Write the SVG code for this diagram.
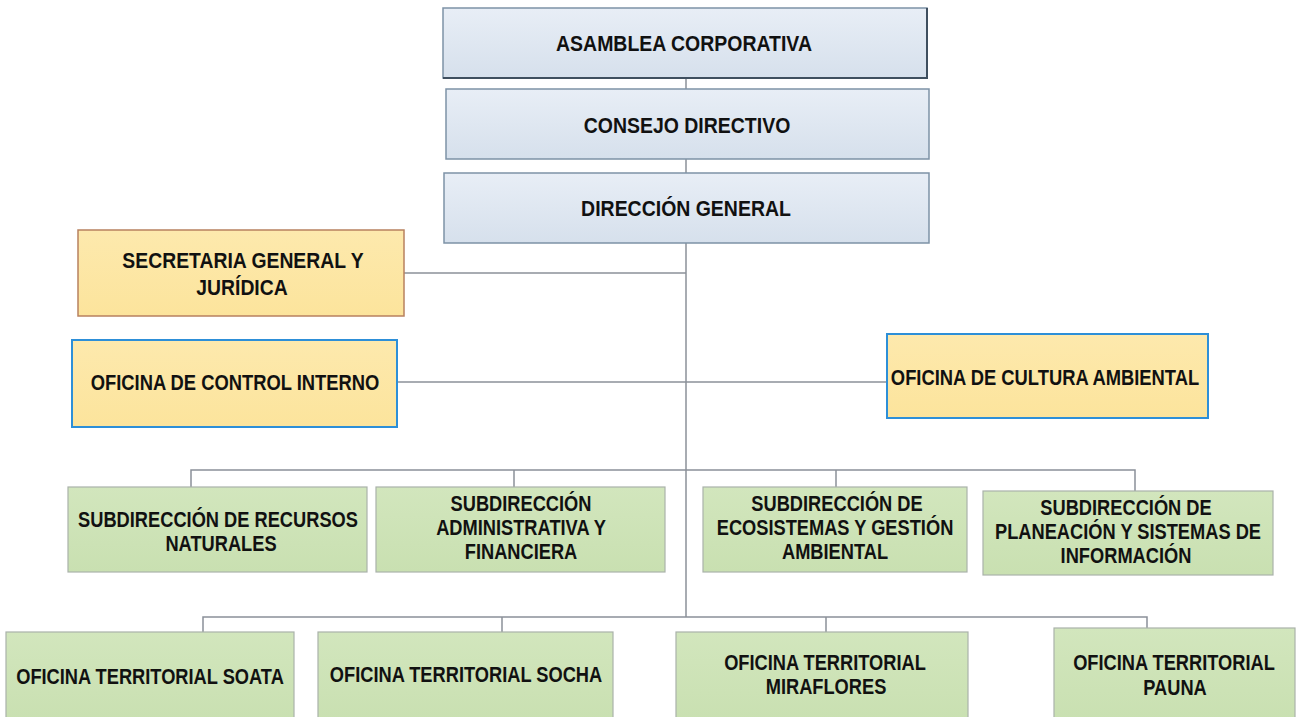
<svg xmlns="http://www.w3.org/2000/svg" width="1303" height="717" viewBox="0 0 1303 717">
<defs>
<linearGradient id="gBlue" x1="0" y1="0" x2="0" y2="1">
<stop offset="0" stop-color="#e8eef6"/>
<stop offset="1" stop-color="#d6e0ec"/>
</linearGradient>
<linearGradient id="gYel" x1="0" y1="0" x2="0" y2="1">
<stop offset="0" stop-color="#fde9ad"/>
<stop offset="1" stop-color="#fce49c"/>
</linearGradient>
<linearGradient id="gGrn" x1="0" y1="0" x2="0" y2="1">
<stop offset="0" stop-color="#d2e6bd"/>
<stop offset="1" stop-color="#c9e0b1"/>
</linearGradient>
</defs>
<style>
.blue{fill:url(#gBlue);stroke:#7d92a6;stroke-width:1.5}
.yel{fill:url(#gYel);stroke:#b8815f;stroke-width:1.5}
.yelb{fill:url(#gYel);stroke:#2d8fd8;stroke-width:2}
.grn{fill:url(#gGrn);stroke:#aab2aa;stroke-width:1.2}
text{font-family:"Liberation Sans",Arial,sans-serif;font-weight:bold;fill:#111;font-size:22px;text-anchor:middle}
.con{stroke:#8b9099;stroke-width:1.5;fill:none}
</style>
<g id="connectors">
<line class="con" x1="686" y1="78" x2="686" y2="89"/>
<line class="con" x1="686" y1="159" x2="686" y2="173"/>
<line class="con" x1="686" y1="243" x2="686" y2="617"/>
<line class="con" x1="404" y1="273" x2="686" y2="273"/>
<line class="con" x1="397" y1="382" x2="887" y2="382"/>
<polyline class="con" points="191,487 191,470 1135,470 1135,491"/>
<line class="con" x1="514" y1="470" x2="514" y2="487"/>
<line class="con" x1="836" y1="470" x2="836" y2="487"/>
<polyline class="con" points="203,632 203,617 1147,617 1147,628"/>
<line class="con" x1="502" y1="617" x2="502" y2="632"/>
<line class="con" x1="826" y1="617" x2="826" y2="632"/>
</g>
<g id="asamblea">
<rect class="blue" x="443" y="8" width="484" height="70"/>
<path d="M927 8 V78 H443" fill="none" stroke="#3f4f5f" stroke-width="2"/>
<text transform="translate(684,51) scale(0.885,1)">ASAMBLEA CORPORATIVA</text>
</g>
<g id="consejo">
<rect class="blue" x="446" y="89" width="483" height="70"/>
<text transform="translate(687,133) scale(0.885,1)">CONSEJO DIRECTIVO</text>
</g>
<g id="direccion">
<rect class="blue" x="444" y="173" width="485" height="70"/>
<text transform="translate(686,216) scale(0.885,1)">DIRECCIÓN GENERAL</text>
</g>
<g id="secretaria">
<rect class="yel" x="78" y="230" width="326" height="86"/>
<text transform="translate(243,268) scale(0.88,1)">SECRETARIA GENERAL Y</text>
<text transform="translate(242,295) scale(0.88,1)">JURÍDICA</text>
</g>
<g id="control-interno">
<rect class="yelb" x="72" y="340" width="325" height="87"/>
<text transform="translate(235,390) scale(0.835,1)">OFICINA DE CONTROL INTERNO</text>
</g>
<g id="cultura-ambiental">
<rect class="yelb" x="887" y="334" width="321" height="84"/>
<text transform="translate(1045,385) scale(0.835,1)">OFICINA DE CULTURA AMBIENTAL</text>
</g>
<g id="sub-recursos">
<rect class="grn" x="68" y="487" width="299" height="85"/>
<text transform="translate(218,527) scale(0.83,1)">SUBDIRECCIÓN DE RECURSOS</text>
<text transform="translate(221,551) scale(0.83,1)">NATURALES</text>
</g>
<g id="sub-administrativa">
<rect class="grn" x="376" y="487" width="289" height="85"/>
<text transform="translate(521,511) scale(0.83,1)">SUBDIRECCIÓN</text>
<text transform="translate(521,535) scale(0.83,1)">ADMINISTRATIVA Y</text>
<text transform="translate(521,559) scale(0.83,1)">FINANCIERA</text>
</g>
<g id="sub-ecosistemas">
<rect class="grn" x="703" y="487" width="264" height="85"/>
<text transform="translate(837,511) scale(0.83,1)">SUBDIRECCIÓN DE</text>
<text transform="translate(835,535) scale(0.83,1)">ECOSISTEMAS Y GESTIÓN</text>
<text transform="translate(835,559) scale(0.83,1)">AMBIENTAL</text>
</g>
<g id="sub-planeacion">
<rect class="grn" x="983" y="491" width="290" height="84"/>
<text transform="translate(1126,515) scale(0.83,1)">SUBDIRECCIÓN DE</text>
<text transform="translate(1128,539) scale(0.83,1)">PLANEACIÓN Y SISTEMAS DE</text>
<text transform="translate(1126,563) scale(0.83,1)">INFORMACIÓN</text>
</g>
<g id="ot-soata">
<rect class="grn" x="6" y="632" width="288" height="90"/>
<text transform="translate(150,684) scale(0.83,1)">OFICINA TERRITORIAL SOATA</text>
</g>
<g id="ot-socha">
<rect class="grn" x="318" y="632" width="295" height="90"/>
<text transform="translate(466,682) scale(0.83,1)">OFICINA TERRITORIAL SOCHA</text>
</g>
<g id="ot-miraflores">
<rect class="grn" x="676" y="632" width="292" height="90"/>
<text transform="translate(825,670) scale(0.83,1)">OFICINA TERRITORIAL</text>
<text transform="translate(826,694) scale(0.83,1)">MIRAFLORES</text>
</g>
<g id="ot-pauna">
<rect class="grn" x="1054" y="628" width="241" height="94"/>
<text transform="translate(1174,670) scale(0.83,1)">OFICINA TERRITORIAL</text>
<text transform="translate(1175,695) scale(0.83,1)">PAUNA</text>
</g>
</svg>
